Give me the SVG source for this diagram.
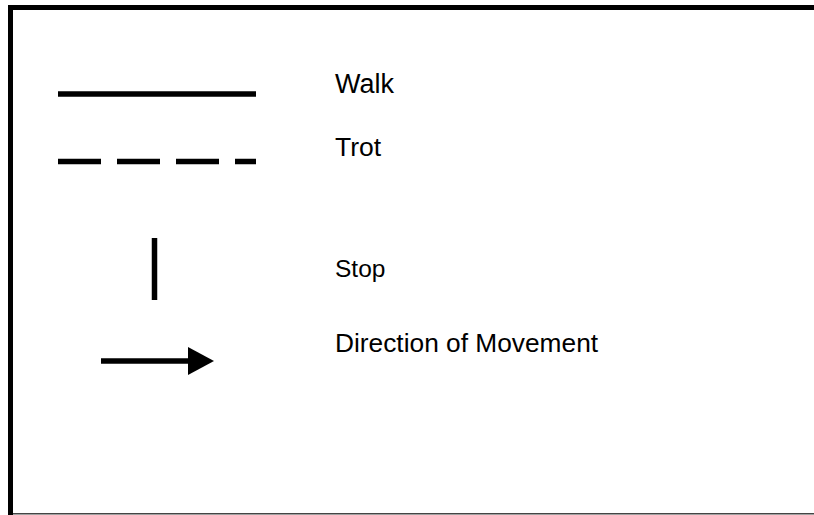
<svg xmlns="http://www.w3.org/2000/svg" width="814" height="515" viewBox="0 0 814 515">
<style>
.lbl{font-family:"Liberation Sans",Arial,sans-serif;fill:#000}
.sym{stroke:#000;stroke-width:5.5;fill:none}
</style>
<defs>
<marker id="ah" markerUnits="userSpaceOnUse" markerWidth="26" markerHeight="28" refX="0" refY="14" orient="auto">
<polygon points="0,0 26,14 0,28" fill="#000"/>
</marker>
</defs>
<rect width="814" height="515" fill="#fff"/>
<g id="frame">
<rect x="8" y="5" width="806" height="5" fill="#000"/>
<rect x="8" y="5" width="5" height="510" fill="#000"/>
<rect x="13" y="513" width="801" height="1.5" fill="#444"/>
</g>
<g id="connectors">
<line id="walk-line" class="sym" x1="58" y1="94" x2="256" y2="94"/>
<line id="trot-line" class="sym" x1="58" y1="161.5" x2="256" y2="161.5" stroke-dasharray="43,16"/>
<line id="stop-line" class="sym" x1="154.5" y1="238" x2="154.5" y2="300"/>
<line id="dir-arrow" class="sym" x1="101" y1="361" x2="188" y2="361" marker-end="url(#ah)"/>
</g>
<g id="walk"><text class="lbl" x="335" y="93" font-size="27">Walk</text></g>
<g id="trot"><text class="lbl" x="335" y="156" font-size="26.5">Trot</text></g>
<g id="stop"><text class="lbl" x="335" y="277" font-size="24.5">Stop</text></g>
<g id="direction"><text class="lbl" x="335" y="352" font-size="26.3">Direction of Movement</text></g>
</svg>
